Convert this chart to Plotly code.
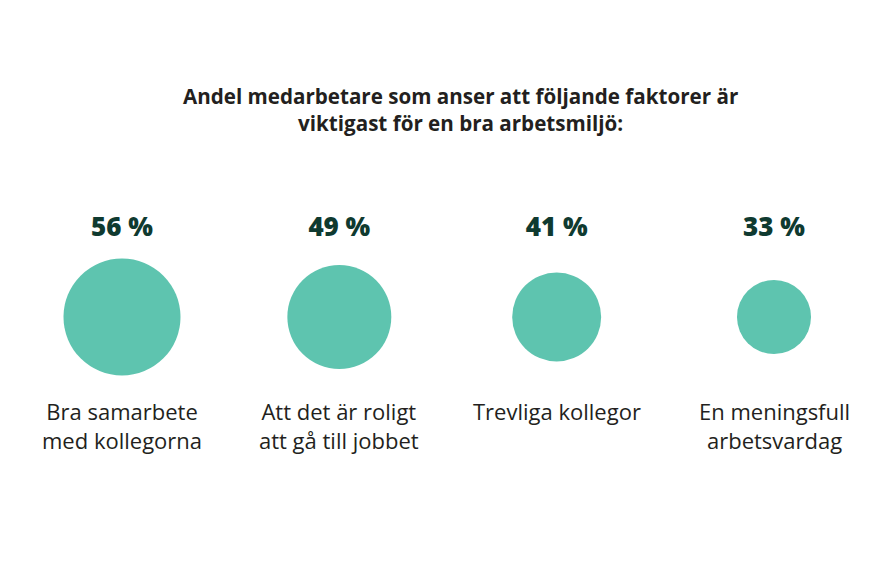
import plotly.graph_objects as go

W, H = 878, 585
OFF = 8  # the page body adds an 8px margin around the figure

TITLE = "Andel medarbetare som anser att följande faktorer är<br>viktigast för en bra arbetsmiljö:"
categories = ["Bra samarbete<br>med kollegorna",
              "Att det är roligt<br>att gå till jobbet",
              "Trevliga kollegor",
              "En meningsfull<br>arbetsvardag"]
values = [56, 49, 41, 33]
value_labels = [f"{v} %" for v in values]

CIRCLE = "#5ec4af"
DARK = "#0f3a30"
INK = "#231f20"
FONT = "Open Sans"

xs = list(range(len(categories)))
sizes = [1.87 * v + 12.3 for v in values]   # marker diameter in px

fig = go.Figure()

# circles
fig.add_trace(go.Scatter(
    x=xs, y=[317 - OFF] * len(xs), mode="markers",
    marker=dict(size=sizes, color=CIRCLE, opacity=1, line=dict(width=0)),
    hoverinfo="skip"))

# percentage labels above
fig.add_trace(go.Scatter(
    x=xs, y=[229 - OFF] * len(xs), mode="text", text=value_labels,
    textfont=dict(family=FONT, size=26, color=DARK, weight=800),
    hoverinfo="skip"))

# category labels below
for x, label in zip(xs, categories):
    fig.add_annotation(x=x, y=394 - OFF, text=label, showarrow=False,
                       xanchor="center", yanchor="top", align="center",
                       font=dict(family=FONT, size=22, color=INK))

fig.add_annotation(x=(460 - OFF) / W, y=1 - (109 - OFF) / H, xref="paper", yref="paper",
                   text=TITLE, showarrow=False, align="center",
                   xanchor="center", yanchor="middle",
                   font=dict(family=FONT, size=20.6, color=INK, weight="bold"))

# x: category 0 sits at px 122, category 3 at px 774
step = (774 - 122) / 3
x0 = 122 - OFF
fig.update_layout(
    width=W, height=H,
    margin=dict(l=0, r=0, t=0, b=0),
    paper_bgcolor="white", plot_bgcolor="white",
    showlegend=False,
    xaxis=dict(range=[-x0 / step, (W - x0) / step], visible=False, fixedrange=True),
    yaxis=dict(range=[H, 0], visible=False, fixedrange=True),
)

fig.write_html("out.html")
